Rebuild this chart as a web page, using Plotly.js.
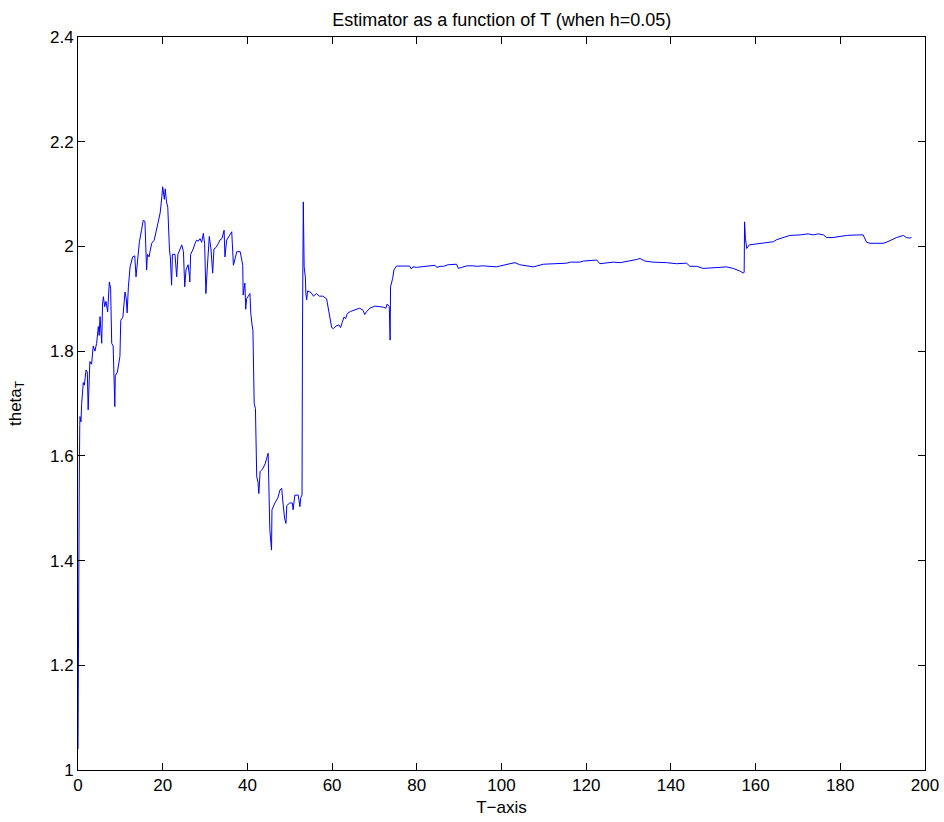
<!DOCTYPE html>
<html>
<head>
<meta charset="utf-8">
<script src="https://cdn.plot.ly/plotly-3.0.1.min.js"></script>
<style>html,body{margin:0;padding:0;background:#fff;}#chart{width:944px;height:822px;}</style>
</head>
<body>
<div id="chart"></div>
<script>
var tValues = [
0, 0.05, 0.15, 0.3, 0.42, 0.47, 0.7, 0.87, 1.25, 1.5, 1.9, 2.2, 2.4, 2.6, 2.8, 3.2, 3.6, 4.0, 4.4, 4.8, 5.0, 5.2, 5.6, 5.8, 6.0, 6.3, 6.6, 7.0, 7.4, 7.7, 7.96, 8.3, 8.5, 8.7, 8.8, 9.3, 9.9, 10.1, 10.6, 11.1, 11.4, 11.6, 11.9, 12.3, 12.9, 13.4, 13.7, 14.2, 14.5, 15.0, 15.4, 15.8, 16.2, 16.4, 16.8, 17.0, 17.4, 18.0, 18.4, 19.0, 19.4, 19.8, 20.0, 20.4, 20.6, 20.9, 21.2, 21.6, 21.8, 22.1, 22.3, 22.9, 23.3, 23.6, 24.0, 24.5, 24.9, 25.2, 25.5, 26.0, 26.3, 26.4, 26.6, 27.2, 27.6, 28.0, 28.4, 28.8, 29.2, 29.6, 29.9, 30.2, 30.5, 31.0, 31.4, 31.8, 32.1, 32.6, 33.1, 33.5, 34.0, 34.5, 34.7, 35.1, 35.7, 36.3, 36.7, 37.1, 37.5, 38.3, 38.9, 39.0, 39.4, 39.6, 39.8, 40.6, 40.8, 41.1, 41.3, 41.6, 41.9, 42.2, 42.5, 42.7, 43.0, 43.6, 44.2, 44.9, 45.0, 45.3, 45.7, 45.8, 46.5, 47.2, 47.7, 48.1, 48.4, 48.8, 49.1, 49.3, 50.0, 50.6, 50.8, 51.2, 52.0, 52.4, 52.6, 52.9, 53.0, 53.2, 53.4, 53.7, 53.8, 54.0, 54.2, 55.0, 55.6, 56.3, 57.0, 57.8, 58.7, 59.1, 59.5, 59.9, 60.3, 60.9, 61.6, 62.0, 62.4, 62.8, 63.2, 63.6, 64.4, 65.5, 66.5, 67.3, 67.7, 68.1, 68.9, 70.1, 71.3, 72.1, 72.7, 73.0, 73.5, 73.7, 73.8, 74.3, 74.6, 75.2, 76.7, 78.3, 78.7, 79.1, 79.9, 81.5, 82.7, 84.3, 84.7, 85.5, 86.3, 87.4, 89.4, 89.8, 90.6, 91.9, 93.1, 94.3, 95.5, 98.8, 102.0, 103.2, 104.3, 107.5, 109.9, 113.0, 115.4, 116.2, 118.5, 119.3, 122.5, 123.2, 126.4, 128.0, 129.5, 131.9, 132.7, 133.9, 135.8, 137.4, 139.0, 141.3, 143.7, 144.5, 146.1, 147.6, 150.0, 151.6, 153.1, 154.7, 156.3, 157.1, 157.3, 157.4, 157.6, 157.9, 158.5, 161.0, 163.4, 164.2, 165.0, 166.1, 168.1, 170.5, 172.4, 173.6, 174.8, 176.0, 176.8, 178.3, 179.9, 181.5, 183.8, 185.4, 186.2, 187.0, 188.6, 190.1, 190.9, 192.5, 193.3, 194.9, 195.6, 196.4, 196.8
];
var thetaValues = [
1.04, 1.2, 1.46, 1.55, 1.66, 1.675, 1.665, 1.70, 1.74, 1.735, 1.764, 1.76, 1.688, 1.73, 1.78, 1.775, 1.81, 1.80, 1.815, 1.847, 1.83, 1.866, 1.815, 1.89, 1.904, 1.885, 1.895, 1.875, 1.932, 1.92, 1.815, 1.81, 1.72, 1.694, 1.753, 1.76, 1.79, 1.859, 1.865, 1.913, 1.90, 1.873, 1.923, 1.961, 1.98, 1.982, 1.942, 1.987, 2.009, 2.031, 2.050, 2.048, 1.955, 1.985, 1.98, 1.99, 2.006, 2.012, 2.028, 2.05, 2.064, 2.095, 2.114, 2.09, 2.11, 2.085, 2.075, 1.993, 1.98, 1.926, 1.985, 1.985, 1.942, 1.985, 1.995, 2.003, 1.99, 1.923, 1.955, 1.965, 1.945, 1.932, 1.985, 1.995, 2.005, 2.012, 2.01, 2.015, 2.008, 2.025, 2.005, 1.91, 1.955, 2.019, 1.995, 1.949, 1.995, 1.998, 2.005, 2.012, 2.015, 2.031, 1.98, 2.012, 2.02, 2.028, 1.964, 1.98, 1.99, 1.99, 1.964, 1.907, 1.93, 1.88, 1.90, 1.91, 1.872, 1.85, 1.84, 1.70, 1.69, 1.56, 1.55, 1.528, 1.57, 1.575, 1.585, 1.605, 1.554, 1.458, 1.42, 1.497, 1.51, 1.52, 1.535, 1.538, 1.51, 1.48, 1.471, 1.505, 1.51, 1.51, 1.497, 1.525, 1.525, 1.503, 1.52, 1.525, 1.827, 2.085, 1.961, 1.94, 1.91, 1.898, 1.915, 1.912, 1.905, 1.91, 1.905, 1.905, 1.90, 1.88, 1.866, 1.845, 1.843, 1.848, 1.85, 1.845, 1.855, 1.865, 1.862, 1.872, 1.876, 1.879, 1.882, 1.878, 1.870, 1.875, 1.882, 1.886, 1.885, 1.884, 1.882, 1.89, 1.885, 1.821, 1.923, 1.939, 1.955, 1.9625, 1.9625, 1.9625, 1.957, 1.961, 1.960, 1.9615, 1.962, 1.964, 1.960, 1.962, 1.962, 1.965, 1.966, 1.958, 1.960, 1.963, 1.963, 1.962, 1.963, 1.961, 1.967, 1.969, 1.965, 1.961, 1.966, 1.967, 1.968, 1.970, 1.970, 1.972, 1.974, 1.967, 1.970, 1.969, 1.971, 1.975, 1.977, 1.972, 1.970, 1.970, 1.969, 1.967, 1.968, 1.962, 1.962, 1.958, 1.960, 1.960, 1.961, 1.958, 1.953, 1.949, 1.951, 2.047, 2.015, 1.996, 2.003, 2.006, 2.008, 2.009, 2.013, 2.016, 2.021, 2.022, 2.024, 2.022, 2.024, 2.022, 2.017, 2.017, 2.019, 2.021, 2.022, 2.022, 2.008, 2.006, 2.006, 2.006, 2.008, 2.014, 2.017, 2.021, 2.017, 2.016, 2.017
];
var xTicks = [0, 20, 40, 60, 80, 100, 120, 140, 160, 180, 200];
var yTicks = [1, 1.2, 1.4, 1.6, 1.8, 2, 2.2, 2.4];
var yTickLabels = ["1", "1.2", "1.4", "1.6", "1.8", "2", "2.2", "2.4"];

var trace = {
  x: tValues, y: thetaValues, type: 'scatter', mode: 'lines',
  line: {color: '#0000ff', width: 1}, hoverinfo: 'skip'
};
var font = {family: 'Liberation Sans, Arial, sans-serif', size: 17, color: '#000'};
var layout = {
  width: 944, height: 822,
  margin: {l: 78, r: 19, t: 37, b: 52, pad: 0},
  paper_bgcolor: '#fff', plot_bgcolor: '#fff',
  showlegend: false,
  font: font,
  title: {text: 'Estimator as a function of T (when h=0.05)', font: {family: font.family, size: 18, color: '#000'}, x: 0.5315, xanchor: 'center', y: 0.976, yanchor: 'middle'},
  xaxis: {
    range: [0, 200], tickvals: xTicks, ticktext: xTicks.map(String),
    ticks: 'inside', ticklen: 7, tickcolor: '#000', showgrid: false, zeroline: false,
    showline: true, linecolor: '#000', linewidth: 1, mirror: 'ticks',
    tickfont: font,
    title: {text: 'T\u2212axis', font: font, standoff: 6}
  },
  yaxis: {
    range: [1, 2.4], tickvals: yTicks, ticktext: yTickLabels,
    ticks: 'inside', ticklen: 7, tickcolor: '#000', showgrid: false, zeroline: false,
    showline: true, linecolor: '#000', linewidth: 1, mirror: 'ticks',
    tickfont: font,
    title: {text: 'theta<sub>T</sub>', font: font, standoff: 24}
  }
};
Plotly.newPlot('chart', [trace], layout, {displayModeBar: false, staticPlot: true});
</script>
</body>
</html>
